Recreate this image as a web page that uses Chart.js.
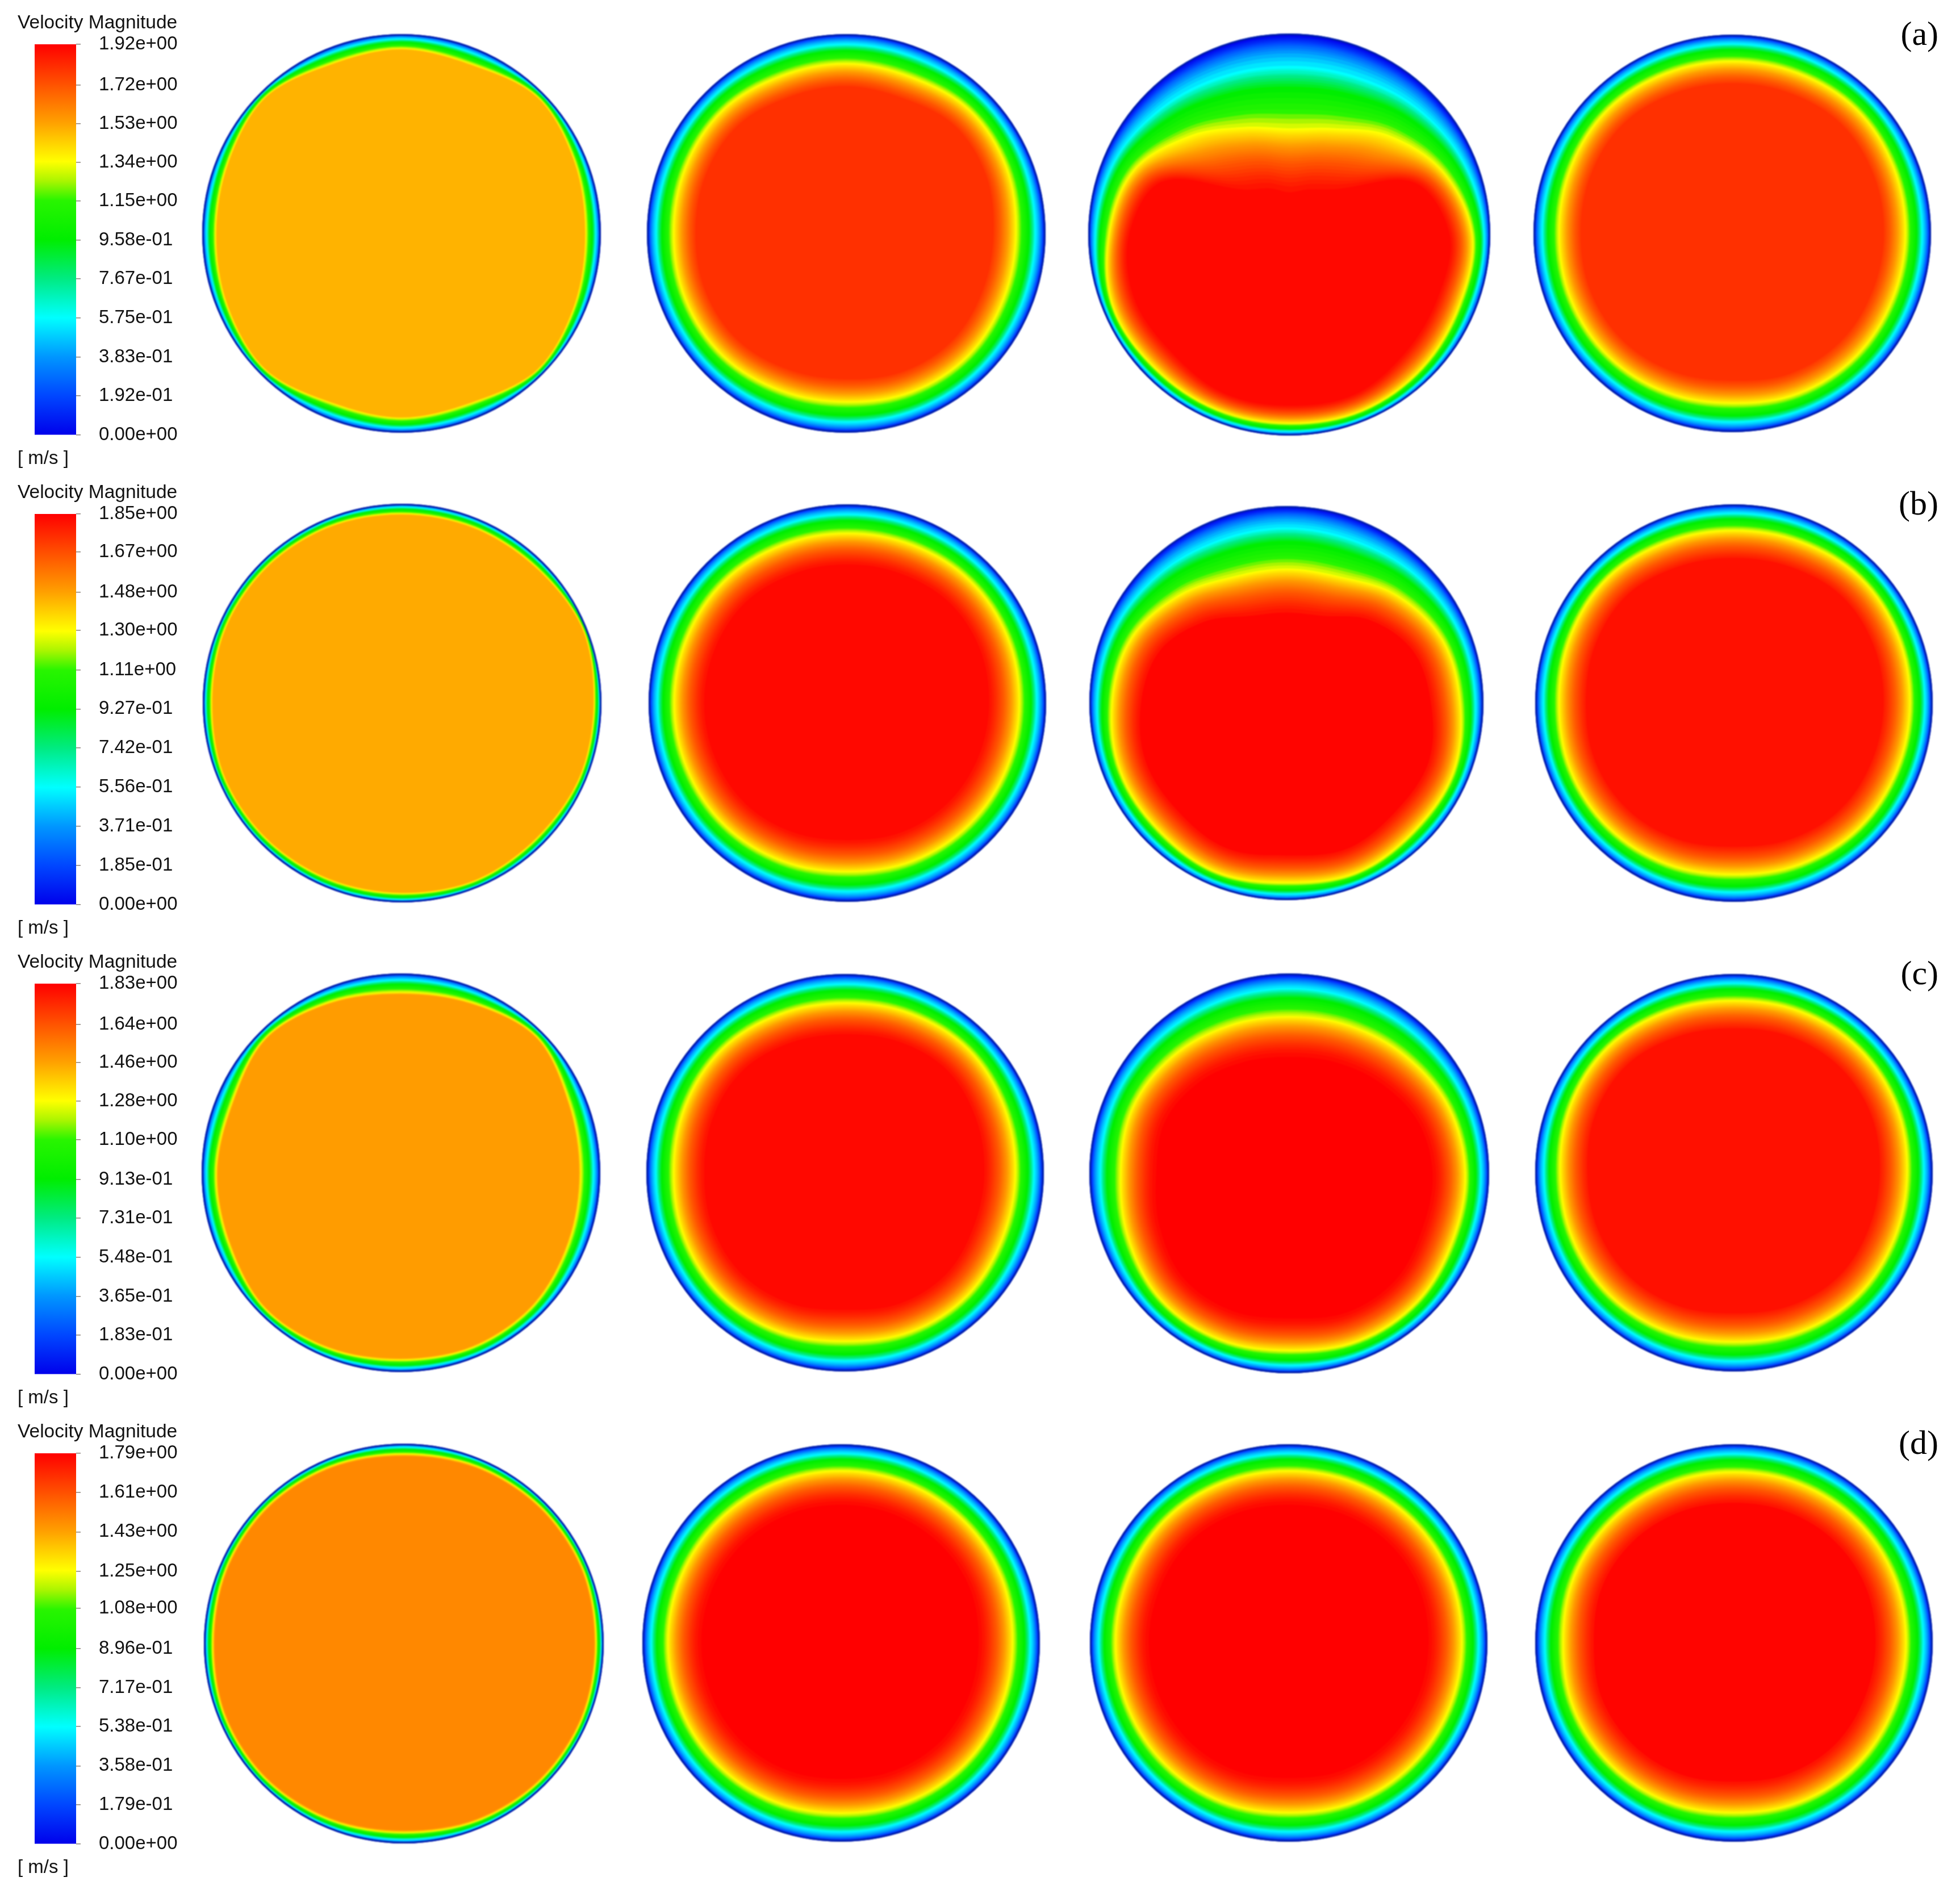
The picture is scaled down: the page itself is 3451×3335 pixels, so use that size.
<!DOCTYPE html>
<html>
<head>
<meta charset="utf-8">
<title>Velocity Magnitude</title>
<script src="https://cdn.jsdelivr.net/npm/chart.js@4/dist/chart.umd.min.js"></script>
<style>
    html, body { margin: 0; padding: 0; background: #fff; }
    #page { position: relative; width: 3451px; height: 3335px; overflow: hidden; }
    #page canvas { position: absolute; }
    #page canvas.disc { filter: blur(1px); }
    .legend-title, .legend-unit, .panel-label { position: absolute; white-space: nowrap; color: #111; }
    .legend-title { left: 31px; font: 33.5px/40px "Liberation Sans", sans-serif; }
    .legend-unit { left: 31px; font: 33px/40px "Liberation Sans", sans-serif; }
    .panel-label { right: 38px; font: 60px/70px "Liberation Serif", serif; color: #000; }
</style>
</head>
<body>
<div id="page"></div>
<script>
// Legend tick labels, bottom to top
const ticksA = ['0.00e+00', '1.92e-01', '3.83e-01', '5.75e-01', '7.67e-01', '9.58e-01', '1.15e+00', '1.34e+00', '1.53e+00', '1.72e+00', '1.92e+00'];
const ticksB = ['0.00e+00', '1.85e-01', '3.71e-01', '5.56e-01', '7.42e-01', '9.27e-01', '1.11e+00', '1.30e+00', '1.48e+00', '1.67e+00', '1.85e+00'];
const ticksC = ['0.00e+00', '1.83e-01', '3.65e-01', '5.48e-01', '7.31e-01', '9.13e-01', '1.10e+00', '1.28e+00', '1.46e+00', '1.64e+00', '1.83e+00'];
const ticksD = ['0.00e+00', '1.79e-01', '3.58e-01', '5.38e-01', '7.17e-01', '8.96e-01', '1.08e+00', '1.25e+00', '1.43e+00', '1.61e+00', '1.79e+00'];

const panelNames = ['(a)', '(b)', '(c)', '(d)'];

// Read directions, clockwise from the top of each disc
const directions = ['N', 'NNE', 'NE', 'ENE', 'E', 'ESE', 'SE', 'SSE', 'S', 'SSW', 'SW', 'WSW', 'W', 'WNW', 'NW', 'NNW'];

// Disc centres and radii, in picture pixels
const centerXA = [707, 1490, 2270, 3050];
const centerXB = [708, 1492, 2265, 3053];
const centerXC = [706, 1488, 2270, 3053];
const centerXD = [711, 1481, 2269, 3053];
const centerYA = [411, 411, 413, 411];
const centerYB = [1238, 1238, 1238, 1238];
const centerYC = [2065, 2065, 2066, 2065];
const centerYD = [2894, 2893, 2893, 2893];
const radiusA = [351, 351, 354, 350];
const radiusB = [351, 350, 347, 350];
const radiusC = [351, 350, 352, 350];
const radiusD = [352, 350, 350, 350];

// Velocity in the core of each disc, as a fraction of the legend maximum
const coreA = [0.78, 0.94, 0.99, 0.94];
const coreB = [0.79, 0.99, 0.995, 0.98];
const coreC = [0.805, 0.99, 1, 0.98];
const coreD = [0.83, 1, 1, 0.995];

// Distance wall to yellow contour, one value per direction
const wallA = [
    [25, 28, 11, 20, 26, 20, 11, 27, 25, 27, 11, 18, 23, 20, 11, 27],
    [51, 52, 43, 45, 51, 50, 46, 48, 53, 50, 44, 44, 46, 44, 43, 50],
    [167, 151, 106, 61, 31, 29, 22, 18, 21, 20, 20, 18, 36, 57, 107, 149],
    [46, 44, 40, 42, 44, 44, 42, 44, 50, 46, 42, 42, 44, 42, 40, 44]
];
const wallB = [
    [17, 16, 14, 6, 12, 11, 14, 12, 15, 14, 12, 11, 15, 12, 12, 14],
    [50, 48, 44, 44, 46, 46, 46, 48, 52, 48, 44, 44, 44, 44, 44, 48],
    [110, 105, 75, 50, 40, 28, 28, 23, 30, 24, 29, 30, 39, 50, 78, 105],
    [45, 42, 36, 37, 39, 39, 38, 42, 47, 42, 38, 38, 41, 38, 36, 42]
];
const wallC = [
    [33, 26, 12, 29, 34, 30, 20, 18, 21, 16, 12, 23, 25, 28, 14, 25],
    [50, 46, 42, 46, 49, 49, 44, 46, 52, 46, 42, 44, 47, 44, 42, 47],
    [75, 70, 60, 47, 41, 40, 32, 32, 39, 34, 34, 45, 54, 52, 60, 70],
    [46, 42, 39, 40, 44, 44, 42, 46, 51, 46, 42, 42, 43, 38, 36, 42]
];
const wallD = [
    [18, 14, 11, 10, 13, 11, 11, 14, 19, 15, 11, 11, 15, 12, 11, 14],
    [46, 45, 44, 44, 47, 46, 44, 46, 49, 46, 44, 44, 44, 44, 44, 45],
    [46, 44, 42, 42, 44, 44, 44, 46, 50, 46, 44, 44, 44, 44, 42, 44],
    [48, 46, 44, 44, 46, 46, 44, 46, 50, 46, 44, 44, 48, 44, 44, 46]
];

// Yellow contour to full core in disc 3 of row (a), where the core has a flat top
const hotDepthA3 = [125, 130, 150, 60, 45, 45, 45, 35, 35, 35, 45, 45, 40, 60, 150, 130];

// Radial profile: velocity fraction and its position across the layer
const levelValues = [0, 0.025, 0.05, 0.075, 0.1, 0.125, 0.15, 0.175, 0.2, 0.225, 0.25, 0.275, 0.3, 0.325, 0.35, 0.375, 0.4, 0.425, 0.45, 0.475, 0.5, 0.525, 0.55, 0.575, 0.6, 0.625, 0.65, 0.675, 0.7,
    0.7125, 0.725, 0.7375, 0.75, 0.7625, 0.775, 0.7875, 0.8, 0.8125, 0.825, 0.8375, 0.85, 0.8625, 0.875, 0.8875, 0.9, 0.9125, 0.925, 0.9375, 0.95, 0.9625, 0.975, 0.9875, 1];
const levelDepths = [0, 0.03, 0.05, 0.07, 0.09, 0.11, 0.13, 0.155, 0.18, 0.21, 0.25, 0.29, 0.34, 0.37, 0.39, 0.42, 0.44, 0.47, 0.5, 0.53, 0.56, 0.62, 0.68, 0.74, 0.8, 0.85, 0.9, 0.95, 1,
    0.025, 0.05, 0.075, 0.1, 0.13, 0.16, 0.19, 0.22, 0.25, 0.28, 0.315, 0.35, 0.385, 0.42, 0.46, 0.5, 0.55, 0.6, 0.65, 0.7, 0.76, 0.82, 0.9, 1];

// Legend colour map
const mapStops = [0, 0.1, 0.2, 0.3, 0.4, 0.5, 0.6, 0.65, 0.7, 0.8, 0.9, 1];
const mapColors = [
    [0, 0, 235], [0, 70, 255], [0, 150, 255], [0, 255, 255], [0, 235, 130], [0, 238, 0],
    [40, 245, 0], [170, 245, 0], [255, 255, 0], [255, 160, 0], [255, 80, 0], [255, 0, 0]
];

const rowTicks = [ticksA, ticksB, ticksC, ticksD];
const rowCenterX = [centerXA, centerXB, centerXC, centerXD];
const rowCenterY = [centerYA, centerYB, centerYC, centerYD];
const rowRadius = [radiusA, radiusB, radiusC, radiusD];
const rowCore = [coreA, coreB, coreC, coreD];
const rowWall = [wallA, wallB, wallC, wallD];

const ROW_STEP = 827;
const BAR_TOP = 78;
const BAR_HEIGHT = 684;
const DISC_HALF = 370;
// Spline tension that keeps 16 points on a round circle
const ROUND_TENSION = 0.346;

document.addEventListener('DOMContentLoaded', function() {
    Chart.defaults.animation = false;
    rowTicks.forEach((ticks, row) => buildLegend(ticks, row));
    rowWall.forEach((walls, row) => {
        walls.forEach((wall, col) => buildDisc(row, col, wall));
    });
});

// Colour for a velocity fraction
function mapColor(t) {
    let i = 0;
    while (i < mapStops.length - 2 && t > mapStops[i + 1]) i++;
    const k = (t - mapStops[i]) / (mapStops[i + 1] - mapStops[i]);
    const c = mapColors[i].map((v, n) => Math.round(v + (mapColors[i + 1][n] - v) * k));
    return `rgb(${c[0]},${c[1]},${c[2]})`;
}

function addText(className, text, top) {
    const el = document.createElement('div');
    el.className = className;
    el.textContent = text;
    el.style.top = top + 'px';
    document.getElementById('page').appendChild(el);
}

// Colour bar of one row, with its own axis
function buildLegend(ticks, row) {
    const page = document.getElementById('page');
    const top = BAR_TOP + row * ROW_STEP;
    const canvas = document.createElement('canvas');
    canvas.width = 340;
    canvas.height = BAR_HEIGHT + 60;
    canvas.style.left = '0px';
    canvas.style.top = (top - 30) + 'px';
    page.appendChild(canvas);

    addText('legend-title', 'Velocity Magnitude', top - 59);
    addText('legend-unit', '[ m/s ]', top + BAR_HEIGHT + 24);
    addText('panel-label', panelNames[row], 24 + row * ROW_STEP);

    const values = ticks.map(Number);
    const maxValue = values[values.length - 1];

    new Chart(canvas, {
        type: 'bar',
        data: {
            labels: ['Velocity Magnitude'],
            datasets: [{
                data: [maxValue],
                barPercentage: 1,
                categoryPercentage: 1,
                backgroundColor: function(context) {
                    const area = context.chart.chartArea;
                    if (!area) return '#00f';
                    const grad = context.chart.ctx.createLinearGradient(0, area.bottom, 0, area.top);
                    mapStops.forEach(s => grad.addColorStop(s, mapColor(s)));
                    return grad;
                }
            }]
        },
        options: {
            responsive: false,
            events: [],
            layout: { padding: { left: 61, top: 30, bottom: 26, right: 0 } },
            plugins: { legend: { display: false }, tooltip: { enabled: false } },
            scales: {
                x: { display: false },
                y: {
                    position: 'right',
                    min: 0,
                    max: maxValue,
                    afterFit: function(scale) {
                        scale.width = 206;
                        scale.paddingTop = 0;
                        scale.paddingBottom = 0;
                    },
                    afterBuildTicks: function(scale) {
                        scale.ticks = values.map(v => ({ value: v }));
                    },
                    border: { display: false },
                    grid: { drawOnChartArea: false, tickLength: 8, color: '#8a8078', lineWidth: 1.5 },
                    ticks: {
                        autoSkip: false,
                        padding: 32,
                        color: '#111',
                        font: { family: '"Liberation Sans", sans-serif', size: 33 },
                        callback: function(value, index) { return ticks[index]; }
                    }
                }
            }
        }
    });
}

// Depth of a level along one direction
function levelDepth(level, wall, hot) {
    if (levelValues[level] <= 0.7) return wall * levelDepths[level];
    return wall + levelDepths[level] * hot;
}

// One disc is a radar chart: each contour is a dataset of radial distances
function buildDisc(row, col, wall) {
    const radius = rowRadius[row][col];
    const core = rowCore[row][col];
    const hotScale = col === 0 ? 0.3 : 1;
    const tension = col === 0 ? 0.33 : ROUND_TENSION;
    const hotAt = i => (row === 0 && col === 2) ? hotDepthA3[i] : (42 + 0.4 * wall[i]) * hotScale;

    const canvas = document.createElement('canvas');
    canvas.className = 'disc';
    canvas.width = DISC_HALF * 2;
    canvas.height = DISC_HALF * 2;
    canvas.style.left = (rowCenterX[row][col] - DISC_HALF) + 'px';
    canvas.style.top = (rowCenterY[row][col] - DISC_HALF) + 'px';
    document.getElementById('page').appendChild(canvas);

    // Chart.js paints the first dataset last, so this list goes top layer first
    const layers = [{
        data: directions.map(() => radius - 1.5),
        fill: false,
        tension: ROUND_TENSION,
        pointRadius: 0,
        borderColor: '#0020a8',
        borderWidth: 3
    }];

    const shown = levelValues.filter(v => v <= core).length;
    for (let level = shown - 1; level >= 0; level--) {
        const isCore = level === shown - 1;
        layers.push({
            data: directions.map((d, i) => radius - levelDepth(level, wall[i], hotAt(i))),
            fill: 'shape',
            tension: level === 0 ? ROUND_TENSION : tension,
            pointRadius: 0,
            borderWidth: 0,
            backgroundColor: mapColor(isCore ? core : levelValues[level])
        });
    }

    new Chart(canvas, {
        type: 'radar',
        data: { labels: directions, datasets: layers },
        options: {
            responsive: false,
            events: [],
            layout: { padding: 0 },
            plugins: { legend: { display: false }, tooltip: { enabled: false } },
            scales: {
                r: {
                    min: 0,
                    max: DISC_HALF,
                    grid: { display: false },
                    angleLines: { display: false },
                    pointLabels: { display: false },
                    ticks: { display: false }
                }
            }
        }
    });
}
</script>
</body>
</html>
